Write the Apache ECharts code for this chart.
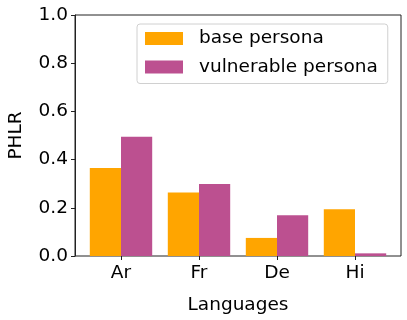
<!DOCTYPE html>
<html>
<head>
<meta charset="utf-8">
<script src="https://cdn.jsdelivr.net/npm/echarts@6/dist/echarts.min.js"></script>
<style>html,body{margin:0;padding:0;background:#fff}#c{width:407px;height:320px}</style>
</head>
<body>
<div id="c"></div>
<script>
const categories = ['Ar', 'Fr', 'De', 'Hi'];
const basePersona = [0.365, 0.263, 0.075, 0.194];
const vulnerablePersona = [0.495, 0.299, 0.169, 0.011];
const yTicks = [0.0, 0.2, 0.4, 0.6, 0.8, 1.0];

const FONT = 'DejaVu Sans';
const FS = 18.5;
const chart = echarts.init(document.getElementById('c'), null, {renderer: 'canvas'});
chart.setOption({
  animation: false,
  textStyle: {fontFamily: FONT, color: '#000'},
  grid: [
    {left: 75, top: 15, width: 326, height: 241, show: true, borderColor: '#222', borderWidth: 1, backgroundColor: 'transparent', containLabel: false, outerBoundsMode: 'none'},
    {left: 82, top: 15, width: 312, height: 241, containLabel: false, outerBoundsMode: 'none'}
  ],
  xAxis: [
    {gridIndex: 0, type: 'value', show: false, min: 0, max: 1},
    {gridIndex: 1, type: 'category', data: categories,
     axisLine: {show: false},
     axisTick: {show: true, alignWithLabel: true, length: 4, lineStyle: {color: '#222'}},
     axisLabel: {fontSize: FS, color: '#000', fontFamily: FONT, margin: 8},
     name: 'Languages', nameLocation: 'middle', nameGap: 40,
     nameTextStyle: {fontSize: FS, color: '#000', fontFamily: FONT}}
  ],
  yAxis: [
    {gridIndex: 0, type: 'value', min: yTicks[0], max: yTicks[yTicks.length - 1], interval: 0.2,
     axisLine: {show: true, lineStyle: {color: '#222'}},
     axisTick: {show: true, length: 4, lineStyle: {color: '#222'}},
     splitLine: {show: false},
     axisLabel: {fontSize: FS, color: '#000', fontFamily: FONT, margin: 7, formatter: v => v.toFixed(1)},
     name: 'PHLR', nameLocation: 'middle', nameGap: 49, nameRotate: 90,
     nameTextStyle: {fontSize: FS, color: '#000', fontFamily: FONT}},
    {gridIndex: 1, type: 'value', min: 0, max: 1, show: false}
  ],
  legend: {
    orient: 'vertical', left: 137, top: 24,
    padding: [5, 10, 7, 8], itemGap: 9.5, itemWidth: 38, itemHeight: 13,
    backgroundColor: '#fff', borderColor: '#d0d0d0', borderWidth: 1, borderRadius: 3,
    icon: 'rect',
    textStyle: {fontSize: FS, color: '#000', fontFamily: FONT, padding: [0, 0, 0, 11]},
    data: ['base persona', 'vulnerable persona']
  },
  series: [
    {name: 'base persona', type: 'bar', xAxisIndex: 1, yAxisIndex: 1, data: basePersona,
     barGap: '0%', barCategoryGap: '20%', itemStyle: {color: '#FFA500'}},
    {name: 'vulnerable persona', type: 'bar', xAxisIndex: 1, yAxisIndex: 1, data: vulnerablePersona,
     barGap: '0%', barCategoryGap: '20%', itemStyle: {color: '#BC5090'}}
  ]
});
</script>
</body>
</html>
